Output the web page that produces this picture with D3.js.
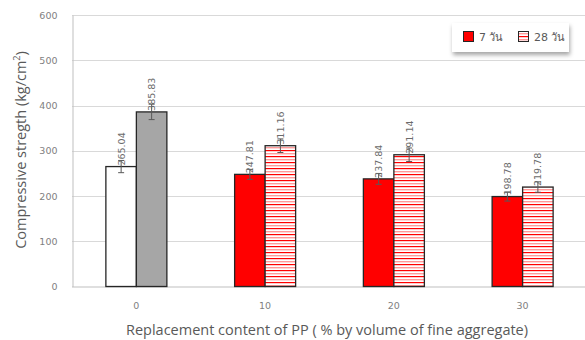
<!DOCTYPE html>
<html>
<head>
<meta charset="utf-8">
<script src="https://cdn.jsdelivr.net/npm/d3@7"></script>
<style>
  html, body { margin: 0; padding: 0; background: #fff; }
  svg { display: block; }
</style>
</head>
<body>
<svg id="chart" width="585" height="340"></svg>
<script>
// Replacement content of PP (% by volume of fine aggregate)
const categories = ["0", "10", "20", "30"];
// Compressive strength (kg/cm²) at 7 and 28 days
const strength7 = [265.04, 247.81, 237.84, 198.78];
const strength28 = [385.83, 311.16, 291.14, 219.78];
// Error bar half-widths (kg/cm²)
const err7 = [13.5, 11, 12, 10];
const err28 = [17, 15, 15, 11.5];
const yTicks = [0, 100, 200, 300, 400, 500, 600];
const seriesNames = ["7 วัน", "28 วัน"];

const svg = d3.select("#chart");
const W = 585, H = 340;
const plotBottom = 286.5;

const x = d3.scaleBand().domain(categories).range([72, 587]).paddingInner(0).paddingOuter(0);
const y = d3.scaleLinear().domain([0, 600]).range([plotBottom, 15]);
const barW = 30.5;

// hatch pattern for the 28-day bars
const defs = svg.append("defs");
const pat = defs.append("pattern")
  .attr("id", "hatch").attr("patternUnits", "userSpaceOnUse")
  .attr("width", 8).attr("height", 6);
pat.append("rect").attr("width", 8).attr("height", 6).attr("fill", "#fff");
pat.append("rect").attr("y", 0).attr("width", 8).attr("height", 1.2).attr("fill", "#ff0000");
pat.append("rect").attr("y", 3).attr("width", 8).attr("height", 1.4).attr("fill", "#ff9a9a");

const shadow = defs.append("filter").attr("id", "shadow")
  .attr("x", "-20%").attr("y", "-30%").attr("width", "140%").attr("height", "180%");
shadow.append("feDropShadow").attr("dx", 1).attr("dy", 3).attr("stdDeviation", 2)
  .attr("flood-color", "#000").attr("flood-opacity", 0.35);

// gridlines
svg.append("g").selectAll("line").data(yTicks.slice(1)).join("line")
  .attr("x1", 72).attr("x2", W).attr("y1", d => Math.round(y(d)) + 0.5).attr("y2", d => Math.round(y(d)) + 0.5)
  .attr("stroke", "#d9d9d9").attr("stroke-width", 1);

// axes
const yAxis = svg.append("g").attr("transform", "translate(72.5,0)")
  .call(d3.axisLeft(y).tickValues(yTicks).tickSize(0).tickPadding(15));
yAxis.select(".domain").attr("stroke", "#bfbfbf");
yAxis.selectAll("text").attr("fill", "#7f7f7f").style("font-family", "'DejaVu Sans', sans-serif").style("font-size", "9.5px");

const xAxis = svg.append("g").attr("transform", `translate(0,${plotBottom + 0.5})`)
  .call(d3.axisBottom(x).tickSize(0).tickPadding(15));
xAxis.select(".domain").attr("stroke", "#bfbfbf").attr("d", `M72,0H${W}`);
xAxis.selectAll("text").attr("fill", "#7f7f7f").style("font-family", "'DejaVu Sans', sans-serif").style("font-size", "9.5px");

// bars
const rows = categories.map((c, i) => ({ c, i, v7: strength7[i], v28: strength28[i], e7: err7[i], e28: err28[i] }));
const bars = [];
rows.forEach(r => {
  const cx = x(r.c) + x.bandwidth() / 2;
  bars.push({ x0: cx - barW, v: r.v7, e: r.e7, fill: r.i === 0 ? "#ffffff" : "#ff0000", series: 0 });
  bars.push({ x0: cx, v: r.v28, e: r.e28, fill: r.i === 0 ? "#a6a6a6" : "url(#hatch)", series: 1 });
});

const gBars = svg.append("g");
gBars.selectAll("rect").data(bars).join("rect")
  .attr("x", d => d.x0).attr("y", d => y(d.v))
  .attr("width", barW).attr("height", d => plotBottom - y(d.v))
  .attr("fill", d => d.fill)
  .attr("stroke", "#262626").attr("stroke-width", 1.3);

// error bars
const gErr = svg.append("g").attr("stroke", "#595959").attr("stroke-width", 1);
bars.forEach(d => {
  const cx = d.x0 + barW / 2;
  const y1 = y(d.v + d.e), y2 = y(d.v - d.e);
  gErr.append("line").attr("x1", cx).attr("x2", cx).attr("y1", y1).attr("y2", y2);
  gErr.append("line").attr("x1", cx - 3).attr("x2", cx + 3).attr("y1", y1).attr("y2", y1);
  gErr.append("line").attr("x1", cx - 3).attr("x2", cx + 3).attr("y1", y2).attr("y2", y2);
});

// value labels (rotated)
svg.append("g").selectAll("text").data(bars).join("text")
  .attr("transform", d => `translate(${d.x0 + barW / 2 + 3.5},${y(d.v) - 1}) rotate(-90)`)
  .attr("text-anchor", "start")
  .attr("fill", "#6b6b6b")
  .style("font-family", "'DejaVu Sans', sans-serif").style("font-size", "9.5px")
  .text(d => d.v.toFixed(2));

// axis titles
svg.append("text")
  .attr("transform", "translate(26,150) rotate(-90)")
  .attr("text-anchor", "middle").attr("fill", "#595959")
  .style("font-family", "'Open Sans', sans-serif").style("font-size", "14.5px")
  .html("Compressive stregth (kg/cm<tspan dy='-6' font-size='9px'>2</tspan><tspan dy='6'>)</tspan>");

svg.append("text")
  .attr("x", 327).attr("y", 335)
  .attr("text-anchor", "middle").attr("fill", "#595959")
  .style("font-family", "'Open Sans', sans-serif").style("font-size", "14.5px")
  .text("Replacement content of PP ( % by volume of fine aggregate)");

// legend
const leg = svg.append("g");
leg.append("rect").attr("x", 452).attr("y", 23).attr("width", 117).attr("height", 29)
  .attr("fill", "#fff").attr("filter", "url(#shadow)");
const legItems = [
  { name: seriesNames[0], fill: "#ff0000", x: 463 },
  { name: seriesNames[1], fill: "url(#hatch)", x: 518 }
];
legItems.forEach(it => {
  leg.append("rect").attr("x", it.x + 0.5).attr("y", 31.5).attr("width", 10).attr("height", 10)
    .attr("fill", it.fill).attr("stroke", "#262626").attr("stroke-width", 1);
  leg.append("text").attr("x", it.x + 16).attr("y", 41)
    .attr("fill", "#595959")
    .style("font-family", "'DejaVu Sans', sans-serif").style("font-size", "11px")
    .text(it.name);
});
</script>
</body>
</html>
